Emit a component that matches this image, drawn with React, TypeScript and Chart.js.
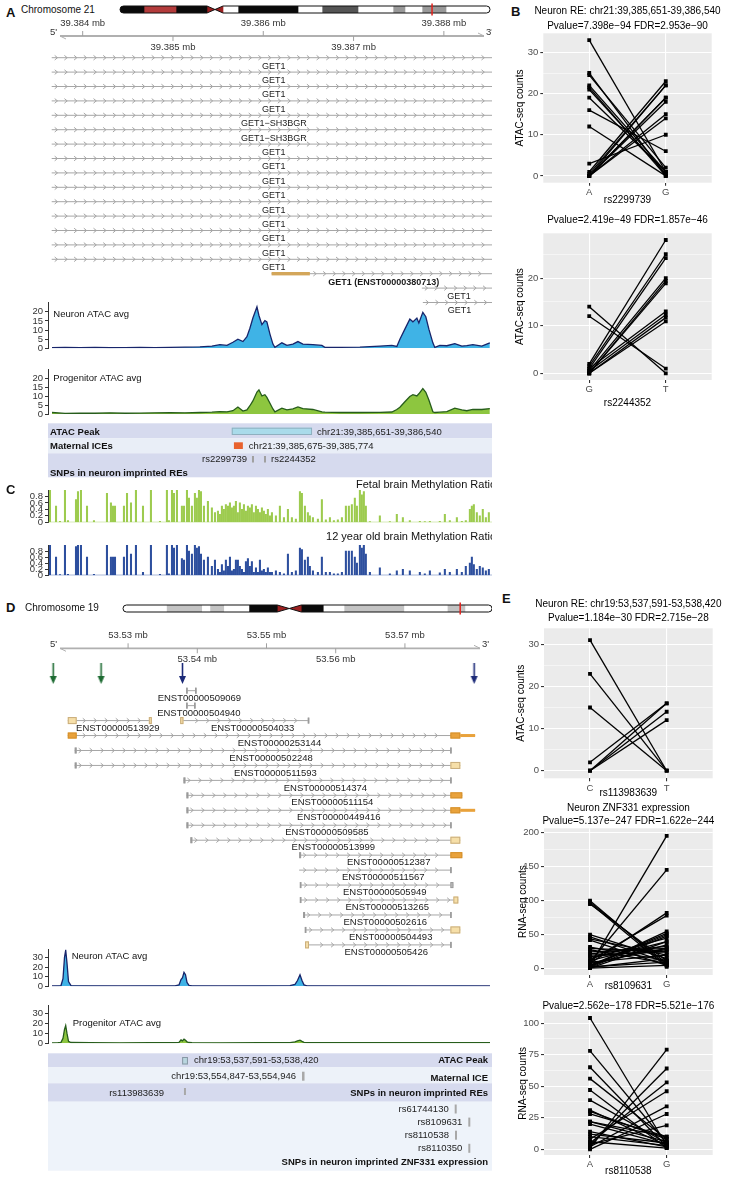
import React, { useEffect, useRef } from "react";
import { Chart, registerables } from "chart.js";

Chart.register(...registerables);

const FONT = "'Liberation Sans', Arial, Helvetica, sans-serif";
Chart.defaults.font.family = FONT;

/* ======================= DATA: panel A (chr21) ======================= */
const A_VIEW_START = 39383616;
const A_VIEW_END = 39388533;
const A_AXIS_TICKS = [39384000, 39385000, 39386000, 39387000, 39388000];
const A_AXIS_LABELS = ["39.384 mb", "39.385 mb", "39.386 mb", "39.387 mb", "39.388 mb"];

const CHR21_LENGTH = 46.7;
const CHR21_BAND_START = [0, 3.03, 7.07, 10.98, 13.0, 14.9, 22.47, 25.5, 30.04, 34.46, 35.97, 38.12, 41.15];
const CHR21_BAND_END = [3.03, 7.07, 10.98, 13.0, 14.9, 22.47, 25.5, 30.04, 34.46, 35.97, 38.12, 41.15, 46.7];
const CHR21_BAND_STAIN = ["gvar", "stalk", "gvar", "acen", "gneg", "gpos100", "gneg", "gpos75", "gneg", "gpos50", "gneg", "gpos50", "gneg"];
const CHR21_MARK = 39.386;

const A_TX_LABEL = ["GET1", "GET1", "GET1", "GET1", "GET1\u2212SH3BGR", "GET1\u2212SH3BGR", "GET1", "GET1", "GET1", "GET1", "GET1", "GET1", "GET1", "GET1", "GET1", "GET1 (ENST00000380713)", "GET1", "GET1"];
const A_TX_ROW = [0, 1, 2, 3, 4, 5, 6, 7, 8, 9, 10, 11, 12, 13, 14, 15, 16, 17];
const A_TX_START = [39383657, 39383657, 39383657, 39383657, 39383657, 39383657, 39383657, 39383657, 39383657, 39383657, 39383657, 39383657, 39383657, 39383657, 39383657, 39386092, 39387756, 39387767];
const A_TX_END = [39388600, 39388600, 39388600, 39388600, 39388600, 39388600, 39388600, 39388600, 39388600, 39388600, 39388600, 39388600, 39388600, 39388600, 39388600, 39388600, 39388600, 39388600];
const A_TX_EXONS: any[] = [[], [], [], [], [], [], [], [], [], [], [], [], [], [], [], [[39386092, 39386516, "gold"]], [], []];
const A_TX_BOLD = [15];

const A_ATAC_POS = [39383660, 39383804, 39383970, 39384136, 39384302, 39384468, 39384634, 39384800, 39384967, 39385133,
  39385299, 39385431, 39385520, 39385598, 39385664, 39385719, 39385775, 39385819, 39385852, 39385885,
  39385930, 39385952, 39385985, 39386018, 39386040, 39386074, 39386107, 39386129, 39386206, 39386262,
  39386328, 39386384, 39386439, 39386550, 39386649, 39386682, 39386848, 39387070, 39387291, 39387424,
  39387479, 39387513, 39387568, 39387623, 39387657, 39387701, 39387723, 39387767, 39387800, 39387834,
  39387878, 39387900, 39387955, 39388033, 39388121, 39388199, 39388254, 39388321, 39388420, 39388509];
const A_NEURON_ATAC = [0.4, 0.5, 0.4, 0.5, 0.3, 0.4, 0.5, 0.4, 0.5, 0.6,
  0.8, 1.2, 2.0, 1.6, 3.3, 5.0, 3.7, 6.4, 11, 16.6,
  22.7, 18, 13, 15.2, 14.5, 7.8, 2.3, 0.5, 3.0, 1.6,
  2.3, 3.7, 2.3, 2.0, 1.6, 0.5, 0.5, 0.6, 1.2, 1.6,
  1.0, 5.0, 10.5, 16, 14.5, 16.6, 13.9, 19.7, 17.3, 10.5,
  3.0, 0.5, 1.6, 1.4, 2.6, 1.2, 1.5, 2.0, 1.2, 3.0];
const A_PROGENITOR_ATAC = [1.0, 0.5, 0.7, 0.6, 0.8, 0.6, 0.7, 0.8, 0.9, 0.8,
  1.0, 1.2, 1.5, 1.4, 2.0, 4.1, 1.8, 2.5, 4.8, 7.5,
  12.5, 13.7, 10.3, 11, 9.5, 6.2, 3.0, 1.4, 3.4, 2.5,
  3.0, 4.1, 3.2, 2.7, 1.4, 1.2, 1.0, 1.0, 1.1, 1.3,
  2.7, 4.0, 7.0, 10.0, 11.0, 10.3, 11.5, 14.4, 12.3, 8.0,
  1.4, 1.0, 1.2, 1.5, 3.4, 2.5, 2.0, 2.7, 2.7, 3.2];
const A_ATAC_TICKS = [0, 5, 10, 15, 20];

const A_PEAK = [39385651, 39386540];
const A_PEAK_TEXT = "chr21:39,385,651-39,386,540";
const A_ICE = [39385675, 39385774];
const A_ICE_TEXT = "chr21:39,385,675-39,385,774";
const A_SNP_ID = ["rs2299739", "rs2244352"];
const A_SNP_POS = [39385886, 39386019];

/* ======================= DATA: panel C (methylation) ======================= */
const CPG_OFFSET = [22, 89, 133, 188, 221, 310, 332, 365, 432, 509,
  653, 697, 720, 742, 841, 875, 919, 974, 1052, 1140,
  1240, 1317, 1339, 1373, 1395, 1428, 1483, 1506, 1539, 1561,
  1594, 1627, 1649, 1672, 1694, 1727, 1771, 1815, 1849, 1882,
  1904, 1926, 1948, 1970, 1993, 2015, 2037, 2059, 2081, 2103,
  2125, 2148, 2170, 2192, 2214, 2236, 2258, 2280, 2303, 2325,
  2347, 2369, 2391, 2413, 2435, 2458, 2480, 2524, 2568, 2613,
  2657, 2701, 2745, 2790, 2812, 2845, 2878, 2900, 2934, 2989,
  3033, 3077, 3122, 3166, 3210, 3255, 3299, 3332, 3365, 3398,
  3421, 3454, 3476, 3498, 3520, 3565, 3675, 3786, 3863, 3930,
  4007, 4118, 4173, 4229, 4339, 4395, 4450, 4528, 4583, 4627,
  4672, 4694, 4716, 4749, 4782, 4815, 4849, 4882];
const FETAL_METH = [1.0, 0.5, 0.03, 1.0, 0.05, 0.7, 0.95, 1.0, 0.5, 0.05,
  0.9, 0.6, 0.5, 0.5, 0.5, 0.9, 0.6, 1.0, 0.5, 1.0,
  0.03, 1.0, 0.05, 1.0, 0.9, 1.0, 0.5, 0.5, 1.0, 0.75,
  0.5, 0.9, 0.75, 1.0, 0.95, 0.5, 0.65, 0.45, 0.3, 0.35,
  0.25, 0.5, 0.4, 0.55, 0.5, 0.6, 0.45, 0.5, 0.65, 0.3,
  0.6, 0.4, 0.55, 0.35, 0.5, 0.45, 0.55, 0.3, 0.5, 0.4,
  0.3, 0.45, 0.35, 0.25, 0.4, 0.2, 0.3, 0.2, 0.5, 0.15,
  0.4, 0.15, 0.1, 0.95, 0.9, 0.5, 0.3, 0.2, 0.15, 0.1,
  0.7, 0.08, 0.15, 0.05, 0.08, 0.15, 0.5, 0.5, 0.55, 0.75,
  0.5, 1.0, 0.85, 0.95, 0.5, 0.02, 0.2, 0.02, 0.25, 0.15,
  0.05, 0.03, 0.02, 0.03, 0.03, 0.25, 0.05, 0.15, 0.03, 0.05,
  0.4, 0.5, 0.55, 0.3, 0.2, 0.4, 0.15, 0.3];
const CHILD_METH = [1.0, 0.6, 0.02, 1.0, 0.03, 0.95, 1.0, 1.0, 0.6, 0.03,
  1.0, 0.6, 0.6, 0.6, 0.6, 1.0, 0.7, 1.0, 0.1, 1.0,
  0.03, 1.0, 0.05, 1.0, 0.9, 1.0, 0.55, 0.5, 1.0, 0.8,
  0.7, 1.0, 0.9, 0.95, 0.7, 0.5, 0.6, 0.3, 0.5, 0.2,
  0.1, 0.35, 0.15, 0.5, 0.3, 0.6, 0.15, 0.2, 0.5, 0.5,
  0.3, 0.2, 0.1, 0.45, 0.55, 0.3, 0.45, 0.1, 0.25, 0.1,
  0.5, 0.15, 0.2, 0.1, 0.25, 0.1, 0.1, 0.15, 0.1, 0.05,
  0.7, 0.1, 0.15, 0.9, 0.85, 0.5, 0.6, 0.3, 0.15, 0.1,
  0.6, 0.1, 0.1, 0.05, 0.05, 0.1, 0.8, 0.8, 0.8, 0.6,
  0.4, 1.0, 0.9, 1.0, 0.7, 0.1, 0.25, 0.05, 0.15, 0.2,
  0.15, 0.1, 0.05, 0.15, 0.08, 0.2, 0.1, 0.2, 0.1, 0.3,
  0.4, 0.6, 0.35, 0.2, 0.3, 0.25, 0.15, 0.2];
const METH_TICKS = [0, 0.2, 0.4, 0.6, 0.8];

/* ======================= DATA: panel D (chr19) ======================= */
const D_VIEW_START = 53518429;
const D_VIEW_END = 53581858;
const D_AXIS_TICKS = [53530000, 53540000, 53550000, 53560000, 53570000];
const D_AXIS_LABELS = ["53.53 mb", "53.54 mb", "53.55 mb", "53.56 mb", "53.57 mb"];

const CHR19_LENGTH = 58.6;
const CHR19_BAND_START = [0, 6.9, 12.5, 13.8, 16.0, 20.0, 24.5, 28.3, 31.8, 35.1, 44.6, 51.5, 54.3];
const CHR19_BAND_END = [6.9, 12.5, 13.8, 16.0, 20.0, 24.5, 28.3, 31.8, 35.1, 44.6, 51.5, 54.3, 58.6];
const CHR19_BAND_STAIN = ["gneg", "gpos25", "gneg", "gpos25", "gneg", "gvar", "acen", "gvar", "gneg", "gpos25", "gneg", "gpos25", "gneg"];
const CHR19_MARK = 53.55;

const D_ARROW_POS = [53519186, 53526100, 53537858, 53580000];
const D_ARROW_GROUP = ["green", "green", "navy", "navy"];

const D_TX_LABEL = ["ENST00000509069", "ENST00000504940", "ENST00000513929", "ENST00000504033", "ENST00000253144",
  "ENST00000502248", "ENST00000511593", "ENST00000514374", "ENST00000511154", "ENST00000449416",
  "ENST00000509585", "ENST00000513999", "ENST00000512387", "ENST00000511567", "ENST00000505949",
  "ENST00000513265", "ENST00000502616", "ENST00000504493", "ENST00000505426"];
const D_TX_ROW = [0, 1, 2, 2, 3, 4, 5, 6, 7, 8, 9, 10, 11, 12, 13, 14, 15, 16, 17];
const D_TX_START = [53538429, 53538429, 53521286, 53537529, 53521286, 53522286, 53522286, 53538000, 53538429, 53538429,
  53538429, 53539000, 53554715, 53554715, 53554858, 53554858, 53555286, 53555572, 53555572];
const D_TX_END = [53539858, 53539715, 53533429, 53556143, 53580143, 53576715, 53578000, 53576715, 53578286, 53580143,
  53576715, 53578000, 53578286, 53576715, 53577000, 53577715, 53576715, 53578000, 53576715];
const D_TX_EXONS: any[] = [
  [[53538429, 53538572, "gray"], [53539715, 53539858, "gray"]],
  [[53538429, 53538572, "gray"], [53539572, 53539715, "gray"]],
  [[53521286, 53522572, "tan"], [53533000, 53533429, "tan"]],
  [[53537529, 53538000, "tan"], [53556000, 53556143, "gray"]],
  [[53521286, 53522572, "orange"], [53576572, 53578000, "orange"], [53578000, 53580143, "utr"]],
  [[53522286, 53522572, "gray"], [53576572, 53576715, "gray"]],
  [[53522286, 53522572, "gray"], [53576572, 53578000, "tan"]],
  [[53538000, 53538286, "gray"], [53576572, 53576715, "gray"]],
  [[53538429, 53538715, "gray"], [53576572, 53578286, "orange"]],
  [[53538429, 53538715, "gray"], [53576572, 53578000, "orange"], [53578000, 53580143, "utr"]],
  [[53538429, 53538715, "gray"], [53576572, 53576715, "gray"]],
  [[53539000, 53539286, "gray"], [53576572, 53578000, "tan"]],
  [[53554715, 53555000, "gray"], [53576572, 53578286, "orange"]],
  [[53576572, 53576715, "gray"]],
  [[53554858, 53555000, "gray"], [53576572, 53577000, "gray"]],
  [[53554858, 53555000, "gray"], [53577000, 53577715, "tan"]],
  [[53555286, 53555572, "gray"], [53576572, 53576715, "gray"]],
  [[53555572, 53555715, "gray"], [53576572, 53578000, "tan"]],
  [[53555572, 53556143, "tan"], [53576572, 53576715, "gray"]],
];

const D_ATAC_POS = [53519000, 53519858, 53520286, 53520572, 53520786, 53520958, 53521143, 53521358, 53521715,
  53524429, 53528715, 53533000, 53536572,
  53537143, 53537429, 53537643, 53537858, 53538072, 53538286, 53538572, 53539000,
  53543000, 53548715, 53553000,
  53553715, 53554072, 53554429, 53554715, 53555000, 53555429,
  53560143, 53565858, 53571572, 53577286, 53581572];
const D_NEURON_ATAC = [0.4, 0.5, 0.8, 8, 30, 37.5, 24, 5, 0.8,
  0.5, 0.4, 0.5, 0.5,
  1.5, 7, 9, 14.5, 12, 4, 1, 0.5,
  0.4, 0.5, 0.6,
  2, 6, 12, 6, 1.5, 0.5,
  0.4, 0.5, 0.4, 0.5, 0.4];
const D_PROGENITOR_ATAC = [0.4, 0.6, 1, 5, 14, 18, 10, 2, 0.8,
  0.6, 0.5, 0.7, 0.6,
  1, 3.5, 2.5, 4.2, 3, 1.5, 0.8, 0.6,
  0.5, 0.6, 0.7,
  1.5, 2.5, 3.2, 2, 1, 0.6,
  0.6, 0.7, 0.6, 0.6, 0.6];
const D_ATAC_TICKS = [0, 10, 20, 30];

const D_PEAK = [53537591, 53538420];
const D_PEAK_TEXT = "chr19:53,537,591-53,538,420";
const D_ICE = [53554847, 53554946];
const D_ICE_TEXT = "chr19:53,554,847-53,554,946";
const D_RE_SNP_ID = ["rs113983639"];
const D_RE_SNP_POS = [53537995];
const D_EXPR_SNP_ID = ["rs61744130", "rs8109631", "rs8110538", "rs8110350"];
const D_EXPR_SNP_POS = [53576672, 53578615, 53576715, 53578615];

/* ======================= DATA: panels B & E (paired counts) ======================= */
const B1_A = [33, 25, 24.5, 22, 21.5, 21, 19, 16, 12, 3, 1, 0.5, 0, 0, 0, 0, 0, 0];
const B1_G = [1, 0, 2, 1, 0, 0.5, 1, 6, 0, 10, 23, 22, 22, 19, 18, 15, 14, 19];
const B2_G = [14, 12, 2, 1.5, 1, 0.5, 0, 0, 1, 0.5, 0, 0];
const B2_T = [0, 1, 28, 25, 24.2, 20, 19.4, 18.9, 13, 12.3, 11.7, 10.9];
const E1_C = [31, 23, 15, 2, 0, 0, 0];
const E1_T = [0, 0, 0, 16, 16, 14, 12];
const E2_A = [100, 98, 96, 95, 50, 47, 44, 42, 32, 28, 25, 20, 5, 10, 8, 12, 3, 5, 2, 15, 1, 6, 30, 10, 3, 1, 8, 2, 4, 12, 18, 22];
const E2_G = [5, 8, 3, 12, 15, 10, 20, 5, 12, 8, 30, 25, 195, 145, 82, 78, 55, 52, 48, 45, 40, 35, 25, 20, 10, 5, 30, 15, 50, 40, 28, 33];
const E3_A = [104, 78, 65, 56, 47, 39, 31, 28, 22, 20, 14, 1, 3, 5, 8, 2, 0, 4, 22, 30, 12, 6, 10];
const E3_G = [3, 5, 2, 8, 1, 5, 3, 10, 6, 4, 2, 79, 64, 53, 46, 34, 28, 19, 10, 8, 5, 1, 3];

const B1_TICKS = [0, 10, 20, 30];
const B2_TICKS = [0, 10, 20];
const E1_TICKS = [0, 10, 20, 30];
const E2_TICKS = [0, 50, 100, 150, 200];
const E3_TICKS = [0, 25, 50, 75, 100];

/* ======================= styles ======================= */
const STAIN_COLOR: any = {
  gneg: "#ffffff", gpos25: "#c4c4c4", gpos50: "#999999", gpos75: "#555555",
  gpos100: "#0a0a0a", gvar: "#0a0a0a", stalk: "#b33b3b", acen: "#9c2020",
};
const EXON_STYLE: any = {
  gold: { h: 3.4, fill: "#d3a65a", minW: 1 },
  orange: { h: 6, fill: "#e9a23b", stroke: "#d4902c", minW: 1.5 },
  tan: { h: 7, fill: "#f6dfa8", stroke: "#c9ad7c", minW: 2 },
  utr: { h: 3, fill: "#e9a23b", minW: 1 },
  gray: { h: 6, fill: "#c4c4c4", stroke: "#9a9a9a", minW: 1.6 },
};
const ARROW_COLOR: any = { green: "#1d6b32", navy: "#1c2a78" };

/* ======================= plugins ======================= */
function ideoPath(chart: any, o: any) {
  const xs = chart.scales.x;
  const mid = chart.scales.y.getPixelForValue(0);
  const h = o.h, top = mid - h / 2, bot = mid + h / 2, r = h / 2;
  const x0 = xs.getPixelForValue(0), x1 = xs.getPixelForValue(o.len);
  const cs = xs.getPixelForValue(o.cen[0]), ce = xs.getPixelForValue(o.cen[1]);
  const cm = (cs + ce) / 2;
  const p = new Path2D();
  p.moveTo(x0 + r, top);
  p.lineTo(cs, top); p.lineTo(cm, mid); p.lineTo(ce, top);
  p.lineTo(x1 - r, top);
  p.arc(x1 - r, mid, r, -Math.PI / 2, Math.PI / 2);
  p.lineTo(ce, bot); p.lineTo(cm, mid); p.lineTo(cs, bot);
  p.lineTo(x0 + r, bot);
  p.arc(x0 + r, mid, r, Math.PI / 2, Math.PI * 1.5);
  p.closePath();
  return p;
}
const ideoPlugin = {
  id: "ideo",
  beforeDatasetsDraw(chart: any, _a: any, o: any) {
    const ctx = chart.ctx;
    const p = ideoPath(chart, o);
    ctx.save();
    ctx.fillStyle = "#fff";
    ctx.fill(p);
    ctx.clip(p);
  },
  afterDatasetsDraw(chart: any, _a: any, o: any) {
    const ctx = chart.ctx;
    ctx.restore();
    const p = ideoPath(chart, o);
    ctx.save();
    ctx.strokeStyle = "#111";
    ctx.lineWidth = 1;
    ctx.stroke(p);
    const mid = chart.scales.y.getPixelForValue(0);
    const mx = chart.scales.x.getPixelForValue(o.mark);
    ctx.strokeStyle = "#e3211c";
    ctx.lineWidth = 1.5;
    ctx.beginPath();
    ctx.moveTo(mx, mid - o.h / 2 - 2.5);
    ctx.lineTo(mx, mid + o.h / 2 + 2.5);
    ctx.stroke();
    ctx.restore();
  },
};

function drawGenomeAxis(ctx: any, xs: any, ca: any, a: any) {
  const ay = ca.top + a.y;
  const x0 = ca.left + a.inL, x1 = ca.right - a.inR;
  ctx.strokeStyle = "#b0b0b0";
  ctx.lineWidth = 1.8;
  ctx.beginPath(); ctx.moveTo(x0, ay); ctx.lineTo(x1, ay); ctx.stroke();
  ctx.lineWidth = 1;
  ctx.beginPath();
  ctx.moveTo(x0, ay); ctx.lineTo(x0 + 6, ay + 3);
  ctx.moveTo(x1, ay); ctx.lineTo(x1 - 6, ay - 3);
  ctx.stroke();
  ctx.font = `9.5px ${FONT}`;
  ctx.fillStyle = "#333";
  ctx.textBaseline = "middle";
  ctx.textAlign = "left";
  ctx.fillText("5'", ca.left + 2, ay - 4);
  ctx.fillText("3'", x1 + 2, ay - 4);
  ctx.textAlign = "center";
  a.ticks.forEach((t: number, i: number) => {
    const px = xs.getPixelForValue(t);
    const up = i % 2 === 0;
    ctx.strokeStyle = "#a0a0a0";
    ctx.beginPath(); ctx.moveTo(px, ay); ctx.lineTo(px, up ? ay - 5 : ay + 5); ctx.stroke();
    ctx.fillText(a.labels[i], px, up ? ay - 13 : ay + 11);
  });
}

const genePlugin = {
  id: "genes",
  afterDatasetsDraw(chart: any, _a: any, o: any) {
    const { ctx, chartArea: ca } = chart;
    const xs = chart.scales.x, ys = chart.scales.y;
    ctx.save();
    if (o.axis) drawGenomeAxis(ctx, xs, ca, o.axis);
    ctx.beginPath();
    ctx.rect(0, ca.top, ca.right, ca.bottom - ca.top);
    ctx.clip();
    for (const t of o.tx) {
      const py = ys.getPixelForValue(t.row);
      const a = xs.getPixelForValue(Math.max(t.start, xs.min));
      const b = xs.getPixelForValue(Math.min(t.end, xs.max));
      const exPx = t.exons.map((e: any) => [xs.getPixelForValue(e[0]), xs.getPixelForValue(e[1])]);
      ctx.strokeStyle = "#a6a6a6";
      ctx.lineWidth = 1;
      ctx.beginPath();
      for (let px = a + o.chevStart; px < b - 3; px += o.chevStep) {
        if (exPx.some((e: number[]) => px > e[0] - 3 && px < e[1] + 3)) continue;
        ctx.moveTo(px - 2, py - 2.3); ctx.lineTo(px + 0.8, py); ctx.lineTo(px - 2, py + 2.3);
      }
      ctx.stroke();
      t.exons.forEach((e: any, i: number) => {
        const st = EXON_STYLE[e[2]];
        let x0 = exPx[i][0], x1 = exPx[i][1];
        if (x1 - x0 < st.minW) { const c = (x0 + x1) / 2; x0 = c - st.minW / 2; x1 = c + st.minW / 2; }
        ctx.fillStyle = st.fill;
        ctx.fillRect(x0, py - st.h / 2, x1 - x0, st.h);
        if (st.stroke) {
          ctx.strokeStyle = st.stroke;
          ctx.strokeRect(x0 + 0.5, py - st.h / 2 + 0.5, Math.max(0.5, x1 - x0 - 1), st.h - 1);
        }
      });
      ctx.font = `${t.bold ? "bold " : ""}${o.fontSize}px ${FONT}`;
      ctx.fillStyle = "#1a1a1a";
      ctx.textAlign = "center";
      ctx.textBaseline = "middle";
      ctx.fillText(t.label, (a + b) / 2 + o.labelDx, py + o.labelDy);
    }
    ctx.restore();
  },
};

const trackLabelPlugin = {
  id: "tlabel",
  afterDraw(chart: any, _a: any, o: any) {
    if (!o || !o.text) return;
    const { ctx, chartArea: ca } = chart;
    ctx.save();
    ctx.font = `${o.size || 9.5}px ${FONT}`;
    ctx.fillStyle = "#111";
    ctx.textBaseline = "middle";
    if (o.right) {
      ctx.textAlign = "right";
      ctx.fillText(o.text, ca.right + o.dx, ca.top + o.dy);
    } else {
      ctx.textAlign = "left";
      ctx.fillText(o.text, ca.left + o.dx, ca.top + o.dy);
    }
    ctx.restore();
  },
};

const annotPlugin = {
  id: "annot",
  beforeDatasetsDraw(chart: any, _a: any, o: any) {
    const { ctx, chartArea: ca } = chart;
    const xs = chart.scales.x;
    ctx.save();
    for (const r of o.rows) {
      ctx.fillStyle = r.color;
      ctx.fillRect(ca.left, ca.top + r.y0, ca.right - ca.left, r.y1 - r.y0);
    }
    ctx.font = `bold 9.5px ${FONT}`;
    ctx.fillStyle = "#111";
    ctx.textBaseline = "middle";
    for (const r of o.rows) {
      ctx.textAlign = r.align;
      ctx.fillText(r.label, r.align === "left" ? ca.left + 2 : ca.right - 4, ca.top + r.labelY);
    }
    ctx.font = `9.5px ${FONT}`;
    for (const b of o.boxes) {
      let x0 = xs.getPixelForValue(b.start), x1 = xs.getPixelForValue(b.end);
      if (x1 - x0 < b.minW) { const c = (x0 + x1) / 2; x0 = c - b.minW / 2; x1 = c + b.minW / 2; }
      ctx.fillStyle = b.fill;
      ctx.fillRect(x0, ca.top + b.y0, x1 - x0, b.y1 - b.y0);
      if (b.stroke) {
        ctx.strokeStyle = b.stroke;
        ctx.lineWidth = 1;
        ctx.strokeRect(x0 + 0.5, ca.top + b.y0 + 0.5, x1 - x0 - 1, b.y1 - b.y0 - 1);
      }
      if (b.text) {
        ctx.fillStyle = "#222";
        ctx.textAlign = b.side === "right" ? "left" : "right";
        ctx.fillText(b.text, b.side === "right" ? x1 + b.gap : x0 - b.gap, ca.top + b.textY);
      }
    }
    ctx.restore();
  },
};

const ggPlugin = {
  id: "gg",
  beforeDraw(chart: any) {
    const { ctx, chartArea: ca } = chart;
    ctx.save();
    ctx.fillStyle = "#ebebeb";
    ctx.fillRect(ca.left, ca.top, ca.right - ca.left, ca.bottom - ca.top);
    ctx.restore();
  },
  afterDraw(chart: any, _a: any, o: any) {
    const { ctx, chartArea: ca } = chart;
    ctx.save();
    ctx.font = `10px ${FONT}`;
    ctx.fillStyle = "#000";
    ctx.textAlign = "center";
    ctx.textBaseline = "middle";
    o.lines.forEach((t: string, i: number) => ctx.fillText(t, (ca.left + ca.right) / 2, o.ys[i]));
    ctx.restore();
  },
};

/* ======================= config builders ======================= */
const noPlugins = { legend: { display: false }, tooltip: { enabled: false }, title: { display: false } };

function ideogramConfig(len: number, starts: number[], ends: number[], stains: string[], mark: number, padL: number, padR: number) {
  const ai = stains.indexOf("acen");
  return {
    type: "bar",
    data: {
      labels: ["chr"],
      datasets: starts.map((s, i) => ({
        data: [[s, ends[i]]],
        backgroundColor: STAIN_COLOR[stains[i]],
        borderWidth: 0,
        barThickness: 7,
        grouped: false,
      })),
    },
    options: {
      indexAxis: "y",
      animation: false, responsive: false, events: [],
      layout: { padding: { left: padL, right: padR, top: 0, bottom: 0 } },
      plugins: { ...noPlugins, ideo: { len, mark, h: 7, cen: [starts[ai], ends[ai]] } },
      scales: { x: { type: "linear", min: 0, max: len, display: false }, y: { display: false } },
    },
    plugins: [ideoPlugin],
  };
}

function makeTx(labels: string[], rows: number[], starts: number[], ends: number[], exons: any[], bold: number[]) {
  return labels.map((label, i) => ({ label, row: rows[i], start: starts[i], end: ends[i], exons: exons[i] || [], bold: bold.includes(i) }));
}

function geneConfig(p: any) {
  const yMin = -p.firstRow / p.rowH;
  const yMax = (p.height - p.firstRow) / p.rowH;
  const datasets: any[] = p.tx.map((t: any) => ({
    data: [{ x: Math.max(t.start, p.view[0]), y: t.row }, { x: Math.min(t.end, p.view[1]), y: t.row }],
    showLine: true, borderColor: "#a6a6a6", borderWidth: 1, pointRadius: 0,
  }));
  if (p.arrows) {
    const ay = (p.arrowY - p.firstRow) / p.rowH;
    Object.keys(ARROW_COLOR).forEach((grp) => {
      const c = document.createElement("canvas");
      c.width = 9; c.height = 21;
      const g = c.getContext("2d")!;
      g.strokeStyle = ARROW_COLOR[grp]; g.lineWidth = 1.6;
      g.beginPath(); g.moveTo(4.5, 0); g.lineTo(4.5, 15); g.stroke();
      g.fillStyle = ARROW_COLOR[grp];
      g.beginPath(); g.moveTo(1, 13); g.lineTo(8, 13); g.lineTo(4.5, 21); g.closePath(); g.fill();
      datasets.push({
        data: p.arrows.pos.map((x: number, i: number) => (p.arrows.group[i] === grp ? { x, y: ay } : null)).filter(Boolean),
        pointStyle: c, pointRadius: 4, showLine: false,
      });
    });
  }
  return {
    type: "scatter",
    data: { datasets },
    options: {
      animation: false, responsive: false, events: [],
      layout: { padding: { left: 48, right: 0, top: 0, bottom: 0 } },
      plugins: {
        ...noPlugins,
        genes: { tx: p.tx, axis: p.axis, chevStep: p.chevStep, chevStart: p.chevStart, fontSize: p.fontSize, labelDx: p.labelDx, labelDy: p.labelDy },
      },
      scales: {
        x: { type: "linear", min: p.view[0], max: p.view[1], display: false },
        y: { type: "linear", min: yMin, max: yMax, reverse: true, display: false },
      },
    },
    plugins: [genePlugin],
  };
}

function atacConfig(p: any) {
  return {
    type: "line",
    data: {
      datasets: [{
        data: p.pos.map((x: number, i: number) => ({ x, y: p.vals[i] })),
        fill: "origin", backgroundColor: p.fill, borderColor: p.line, borderWidth: 1.3,
        pointRadius: 0, tension: 0,
      }],
    },
    options: {
      animation: false, responsive: false, events: [],
      layout: { padding: 0 },
      plugins: { ...noPlugins, tlabel: { text: p.label, dx: p.labelDx, dy: p.labelDy } },
      scales: {
        x: { type: "linear", min: p.view[0], max: p.view[1], display: false },
        y: {
          type: "linear", min: 0, max: p.yMax,
          afterBuildTicks: (s: any) => { s.ticks = p.ticks.map((v: number) => ({ value: v })); },
          afterFit: (s: any) => { s.width = 48; },
          ticks: { font: { size: 9.5 }, color: "#333", padding: 2, autoSkip: false },
          grid: { drawOnChartArea: false, tickLength: 3, color: "#333" },
          border: { display: true, color: "#333", width: 1 },
        },
      },
    },
    plugins: [trackLabelPlugin],
  };
}

function methConfig(p: any) {
  return {
    type: "bar",
    data: {
      datasets: [
        { type: "line", data: [{ x: A_VIEW_START, y: 0 }, { x: A_VIEW_END, y: 0 }], borderColor: p.color, borderWidth: 1, pointRadius: 0 },
        { type: "bar", data: p.pos.map((x: number, i: number) => ({ x, y: p.vals[i] })), backgroundColor: p.color, barThickness: 1.4, borderWidth: 0 },
      ],
    },
    options: {
      animation: false, responsive: false, events: [],
      layout: { padding: { top: p.padTop, bottom: p.padBottom, left: 0, right: 0 } },
      plugins: { ...noPlugins, tlabel: { text: p.title, right: true, dx: 4, dy: p.titleDy, size: 11 } },
      scales: {
        x: { type: "linear", min: A_VIEW_START, max: A_VIEW_END, display: false, offset: false },
        y: {
          type: "linear", min: 0, max: 1,
          afterBuildTicks: (s: any) => { s.ticks = METH_TICKS.map((v) => ({ value: v })); },
          afterFit: (s: any) => { s.width = 48; },
          ticks: { font: { size: 9.5 }, color: "#333", padding: 2, autoSkip: false },
          grid: { drawOnChartArea: false, tickLength: 3, color: "#333" },
          border: { display: true, color: "#333", width: 1 },
        },
      },
    },
    plugins: [trackLabelPlugin],
  };
}

function annotConfig(view: number[], rows: any[], boxes: any[]) {
  return {
    type: "scatter",
    data: { datasets: [] },
    options: {
      animation: false, responsive: false, events: [],
      layout: { padding: { left: 48, right: 0, top: 0, bottom: 0 } },
      plugins: { ...noPlugins, annot: { rows, boxes } },
      scales: {
        x: { type: "linear", min: view[0], max: view[1], display: false },
        y: { type: "linear", min: 0, max: 1, display: false },
      },
    },
    plugins: [annotPlugin],
  };
}

function pairedConfig(p: any) {
  const minors: number[] = [];
  for (let i = 0; i < p.majors.length - 1; i++) minors.push((p.majors[i] + p.majors[i + 1]) / 2);
  const last = p.majors[p.majors.length - 1] + (p.majors[1] - p.majors[0]) / 2;
  if (last < p.range[1]) minors.push(last);
  const all = [...p.majors, ...minors].sort((a, b) => a - b);
  const isMajor = (v: any) => p.majors.includes(v);
  return {
    type: "scatter",
    data: {
      datasets: p.a.map((va: number, i: number) => ({
        data: [{ x: 1, y: va }, { x: 2, y: p.b[i] }],
        showLine: true, borderColor: "#000", borderWidth: 1.3,
        pointStyle: "rect", pointRadius: 2.7, pointBackgroundColor: "#000", pointBorderWidth: 0,
      })),
    },
    options: {
      animation: false, responsive: false, events: [],
      layout: { padding: { top: p.chartTop, right: p.rightPad, left: 0, bottom: 0 } },
      plugins: { ...noPlugins, gg: { lines: p.titles, ys: p.titleYs } },
      scales: {
        x: {
          type: "linear", min: 0.4, max: 2.6,
          afterBuildTicks: (s: any) => { s.ticks = [{ value: 1 }, { value: 2 }]; },
          afterFit: (s: any) => { s.height = p.axisH; },
          ticks: { callback: (v: any) => p.alleles[v - 1] ?? "", color: "#4d4d4d", font: { size: 9.5 }, padding: 1, autoSkip: false, maxRotation: 0 },
          grid: { color: "#ffffff", lineWidth: 1.1, tickColor: "#333", tickLength: 3 },
          border: { display: false },
          title: { display: true, text: p.xTitle, color: "#000", font: { size: 10 }, padding: { top: 0, bottom: p.xTitlePad } },
        },
        y: {
          type: "linear", min: p.range[0], max: p.range[1],
          afterBuildTicks: (s: any) => { s.ticks = all.map((v) => ({ value: v })); },
          afterFit: (s: any) => { s.width = p.chartLeft; },
          ticks: { callback: (v: any) => (isMajor(v) ? String(v) : ""), color: "#4d4d4d", font: { size: 9.5 }, padding: 2, autoSkip: false },
          grid: {
            color: "#ffffff",
            lineWidth: (c: any) => (isMajor(c.tick?.value) ? 1.1 : 0.5),
            tickColor: (c: any) => (isMajor(c.tick?.value) ? "#333" : "rgba(0,0,0,0)"),
            tickLength: 3,
          },
          border: { display: false },
          title: { display: true, text: p.yTitle, color: "#000", font: { size: 10 }, padding: { top: p.yTitlePad, bottom: 0 } },
        },
      },
    },
    plugins: [ggPlugin],
  };
}

/* ======================= components ======================= */
function Box({ left, top, width, height, make }: any) {
  const ref = useRef<HTMLCanvasElement>(null);
  useEffect(() => {
    const chart = new Chart(ref.current as HTMLCanvasElement, make());
    return () => chart.destroy();
  }, []);
  return <canvas ref={ref} width={width} height={height} style={{ position: "absolute", left, top, width, height }} />;
}

function Text({ x, y, size, bold, children }: any) {
  return (
    <div style={{ position: "absolute", left: x, top: y, fontSize: size, lineHeight: `${size}px`, fontWeight: bold ? "bold" : "normal", whiteSpace: "nowrap", color: "#111" }}>
      {children}
    </div>
  );
}

const A_ROWS = [
  { y0: 0.3, y1: 15.3, color: "#d6daee", label: "ATAC Peak", labelY: 9.7, align: "left" },
  { y0: 15.3, y1: 30.3, color: "#e9eef7", label: "Maternal ICEs", labelY: 23.7, align: "left" },
  { y0: 30.3, y1: 54.3, color: "#d6daee", label: "SNPs in neuron imprinted REs", labelY: 50.3, align: "left" },
];
const D_ROWS = [
  { y0: 0.3, y1: 14.3, color: "#d6daee", label: "ATAC Peak", labelY: 7.7, align: "right" },
  { y0: 14.3, y1: 30.3, color: "#edf2f9", label: "Maternal ICE", labelY: 25.3, align: "right" },
  { y0: 30.3, y1: 48.7, color: "#d6daee", label: "SNPs in neuron imprinted REs", labelY: 40.3, align: "right" },
  { y0: 48.7, y1: 117.7, color: "#eef3fa", label: "SNPs in neuron imprinted ZNF331 expression", labelY: 109.3, align: "right" },
];

export default function App() {
  const aTx = makeTx(A_TX_LABEL, A_TX_ROW, A_TX_START, A_TX_END, A_TX_EXONS, A_TX_BOLD);
  const dTx = makeTx(D_TX_LABEL, D_TX_ROW, D_TX_START, D_TX_END, D_TX_EXONS, []);
  const aBoxes = [
    { start: A_PEAK[0], end: A_PEAK[1], y0: 4.7, y1: 12, fill: "#a9dbea", stroke: "#8fb0bf", text: A_PEAK_TEXT, side: "right", gap: 5, textY: 9.7, minW: 2 },
    { start: A_ICE[0], end: A_ICE[1], y0: 19.3, y1: 26, fill: "#e8622e", text: A_ICE_TEXT, side: "right", gap: 6, textY: 23, minW: 2 },
    ...A_SNP_ID.map((id, i) => ({ start: A_SNP_POS[i], end: A_SNP_POS[i], y0: 33, y1: 39.5, fill: "#a0a0a0", text: id, side: i === 0 ? "left" : "right", gap: 5, textY: 36.3, minW: 2 })),
  ];
  const dBoxes = [
    { start: D_PEAK[0], end: D_PEAK[1], y0: 4, y1: 11.5, fill: "#b9d6df", stroke: "#8797a5", text: D_PEAK_TEXT, side: "right", gap: 6, textY: 7.7, minW: 2 },
    { start: D_ICE[0], end: D_ICE[1], y0: 18.7, y1: 27.7, fill: "#a8a8a8", text: D_ICE_TEXT, side: "left", gap: 6, textY: 23, minW: 2.5 },
    ...D_RE_SNP_ID.map((id, i) => ({ start: D_RE_SNP_POS[i], end: D_RE_SNP_POS[i], y0: 35, y1: 42, fill: "#a8a8a8", text: id, side: "left", gap: 20, textY: 40.3, minW: 2 })),
    ...D_EXPR_SNP_ID.map((id, i) => ({ start: D_EXPR_SNP_POS[i], end: D_EXPR_SNP_POS[i], y0: 51.5 + i * 13.1, y1: 60.5 + i * 13.1, fill: "#a8a8a8", text: id, side: "left", gap: 6, textY: 56 + i * 13.1, minW: 2 })),
  ];
  const cpgPos = CPG_OFFSET.map((o) => A_VIEW_START + o);

  return (
    <div style={{ position: "absolute", left: 0, top: 0, width: 729, height: 1177, background: "#fff", overflow: "hidden", fontFamily: FONT }}>
      {/* ---------- Panel A ---------- */}
      <Text x={6} y={5.7} size={13} bold>A</Text>
      <Text x={21} y={5} size={10}>Chromosome 21</Text>
      <Box left={0} top={0} width={492} height={19}
        make={() => ideogramConfig(CHR21_LENGTH, CHR21_BAND_START, CHR21_BAND_END, CHR21_BAND_STAIN, CHR21_MARK, 120, 2)} />
      <Box left={0} top={16} width={492} height={300}
        make={() => geneConfig({
          view: [A_VIEW_START, A_VIEW_END], tx: aTx, rowH: 14.4, firstRow: 41.7, height: 300,
          axis: { y: 20, inL: 12, inR: 8, ticks: A_AXIS_TICKS, labels: A_AXIS_LABELS },
          chevStep: 9.7, chevStart: 5, fontSize: 9, labelDx: 2, labelDy: 8.5,
        })} />
      <Box left={0} top={295} width={492} height={61}
        make={() => atacConfig({ pos: A_ATAC_POS, vals: A_NEURON_ATAC, fill: "#3fb3e6", line: "#18256b", view: [A_VIEW_START, A_VIEW_END], yMax: 25, ticks: A_ATAC_TICKS, label: "Neuron ATAC avg", labelDx: 5.3, labelDy: 11.7 })} />
      <Box left={0} top={362} width={492} height={60}
        make={() => atacConfig({ pos: A_ATAC_POS, vals: A_PROGENITOR_ATAC, fill: "#8dc63f", line: "#275d1c", view: [A_VIEW_START, A_VIEW_END], yMax: 25, ticks: A_ATAC_TICKS, label: "Progenitor ATAC avg", labelDx: 5.3, labelDy: 8.7 })} />
      <Box left={0} top={423} width={492} height={55}
        make={() => annotConfig([A_VIEW_START, A_VIEW_END], A_ROWS, aBoxes)} />

      {/* ---------- Panel C ---------- */}
      <Text x={6} y={483} size={13} bold>C</Text>
      <Box left={0} top={478} width={492} height={52}
        make={() => methConfig({ pos: cpgPos, vals: FETAL_METH, color: "#9dcb4f", title: "Fetal brain Methylation Ratio", padTop: 12, padBottom: 3, titleDy: -5 })} />
      <Box left={0} top={530} width={492} height={53}
        make={() => methConfig({ pos: cpgPos, vals: CHILD_METH, color: "#2d4f9e", title: "12 year old brain Methylation Ratio", padTop: 15, padBottom: 3, titleDy: -8.3 })} />

      {/* ---------- Panel D ---------- */}
      <Text x={6} y={601.3} size={13} bold>D</Text>
      <Text x={25} y={603} size={10}>Chromosome 19</Text>
      <Box left={0} top={599} width={492} height={19}
        make={() => ideogramConfig(CHR19_LENGTH, CHR19_BAND_START, CHR19_BAND_END, CHR19_BAND_STAIN, CHR19_MARK, 123, 0)} />
      <Box left={0} top={618} width={492} height={345}
        make={() => geneConfig({
          view: [D_VIEW_START, D_VIEW_END], tx: dTx, rowH: 15.4, firstRow: 69.7, height: 345,
          axis: { y: 25.3, inL: 12, inR: 7, ticks: D_AXIS_TICKS, labels: D_AXIS_LABELS },
          arrows: { pos: D_ARROW_POS, group: D_ARROW_GROUP }, arrowY: 52,
          chevStep: 11, chevStart: 6, fontSize: 9.5, labelDx: 8, labelDy: 7.5,
        })} />
      <Box left={0} top={942} width={492} height={52}
        make={() => atacConfig({ pos: D_ATAC_POS, vals: D_NEURON_ATAC, fill: "#3fb3e6", line: "#18256b", view: [D_VIEW_START, D_VIEW_END], yMax: 38, ticks: D_ATAC_TICKS, label: "Neuron ATAC avg", labelDx: 23.7, labelDy: 6.3 })} />
      <Box left={0} top={998} width={492} height={53}
        make={() => atacConfig({ pos: D_ATAC_POS, vals: D_PROGENITOR_ATAC, fill: "#8dc63f", line: "#275d1c", view: [D_VIEW_START, D_VIEW_END], yMax: 38, ticks: D_ATAC_TICKS, label: "Progenitor ATAC avg", labelDx: 24.7, labelDy: 18 })} />
      <Box left={0} top={1053} width={492} height={118}
        make={() => annotConfig([D_VIEW_START, D_VIEW_END], D_ROWS, dBoxes)} />

      {/* ---------- Panel B ---------- */}
      <Text x={511} y={5} size={13} bold>B</Text>
      <Box left={493} top={0} width={236} height={206}
        make={() => pairedConfig({ a: B1_A, b: B1_G, alleles: ["A", "G"], majors: B1_TICKS, range: [-1.65, 34.65],
          titles: ["Neuron RE: chr21:39,385,651-39,386,540", "Pvalue=7.398e\u221294 FDR=2.953e\u221290"], titleYs: [11.7, 26],
          xTitle: "rs2299739", yTitle: "ATAC-seq counts", chartLeft: 50.3, chartTop: 33.3, axisH: 23.3, rightPad: 17.3, yTitlePad: 21, xTitlePad: 0 })} />
      <Box left={493} top={208} width={236} height={202}
        make={() => pairedConfig({ a: B2_G, b: B2_T, alleles: ["G", "T"], majors: B2_TICKS, range: [-1.4, 29.4],
          titles: ["Pvalue=2.419e\u221249 FDR=1.857e\u221246"], titleYs: [12],
          xTitle: "rs2244352", yTitle: "ATAC-seq counts", chartLeft: 50.3, chartTop: 25.3, axisH: 30, rightPad: 17.3, yTitlePad: 21, xTitlePad: 0.7 })} />

      {/* ---------- Panel E ---------- */}
      <Text x={502} y={591.7} size={13} bold>E</Text>
      <Box left={493} top={590} width={236} height={210}
        make={() => pairedConfig({ a: E1_C, b: E1_T, alleles: ["C", "T"], majors: E1_TICKS, range: [-1.8, 33.8],
          titles: ["Neuron RE: chr19:53,537,591-53,538,420", "Pvalue=1.184e\u221230 FDR=2.715e\u221228"], titleYs: [14, 28.3],
          xTitle: "rs113983639", yTitle: "ATAC-seq counts", chartLeft: 51, chartTop: 38.3, axisH: 21.7, rightPad: 16.3, yTitlePad: 22.7, xTitlePad: 0.7 })} />
      <Box left={493} top={800} width={236} height={192}
        make={() => pairedConfig({ a: E2_A, b: E2_G, alleles: ["A", "G"], majors: E2_TICKS, range: [-9, 206],
          titles: ["Neuron ZNF331 expression", "Pvalue=5.137e\u2212247 FDR=1.622e\u2212244"], titleYs: [8.3, 21.7],
          xTitle: "rs8109631", yTitle: "RNA-seq counts", chartLeft: 51, chartTop: 28.3, axisH: 17, rightPad: 16.3, yTitlePad: 24, xTitlePad: 0 })} />
      <Box left={493} top={995} width={236} height={182}
        make={() => pairedConfig({ a: E3_A, b: E3_G, alleles: ["A", "G"], majors: E3_TICKS, range: [-4.5, 109],
          titles: ["Pvalue=2.562e\u2212178 FDR=5.521e\u2212176"], titleYs: [11.7],
          xTitle: "rs8110538", yTitle: "RNA-seq counts", chartLeft: 51, chartTop: 16.7, axisH: 22, rightPad: 16.3, yTitlePad: 24, xTitlePad: 0 })} />
    </div>
  );
}
